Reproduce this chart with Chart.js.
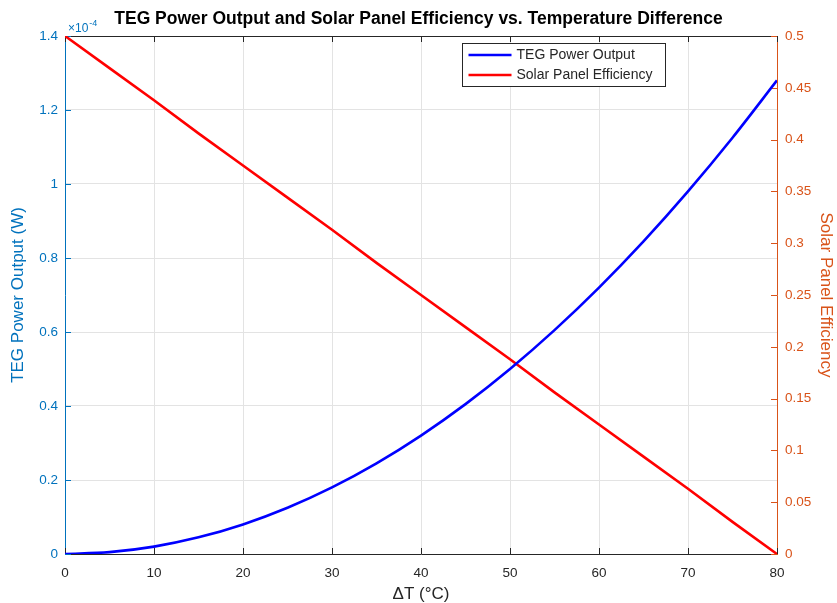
<!DOCTYPE html>
<html>
<head>
<meta charset="utf-8">
<script src="https://cdn.jsdelivr.net/npm/chart.js@4/dist/chart.umd.min.js"></script>
<style>
  html, body { margin: 0; padding: 0; background: #fff; }
  #wrap { width: 837px; height: 603px; }
</style>
</head>
<body>
<div id="wrap"><canvas id="c" width="837" height="603"></canvas></div>
<script>
// Temperature difference (°C)
const deltaT = [0, 5, 10, 15, 20, 25, 30, 35, 40, 45, 50, 55, 60, 65, 70, 75, 80];
// TEG power output (W)
const tegPowerW = [0, 5.0e-7, 2.0e-6, 4.5e-6, 8.0e-6, 1.25e-5, 1.8e-5, 2.45e-5, 3.2e-5,
                   4.05e-5, 5.0e-5, 6.05e-5, 7.2e-5, 8.45e-5, 9.8e-5, 1.125e-4, 1.28e-4];
// Solar panel efficiency (fraction)
const solarEfficiency = [0.5, 0.469, 0.438, 0.406, 0.375, 0.344, 0.313, 0.281, 0.25,
                         0.219, 0.188, 0.156, 0.125, 0.094, 0.063, 0.031, 0];

// Tick labels
const xTickValues = [0, 10, 20, 30, 40, 50, 60, 70, 80];
const tegTickLabels = [0, 0.2, 0.4, 0.6, 0.8, 1, 1.2, 1.4];   // ×10^-4 W
const tegExponent = -4;
const effTickLabels = [0, 0.05, 0.1, 0.15, 0.2, 0.25, 0.3, 0.35, 0.4, 0.45, 0.5];

const BLUE_AXIS = '#0072BD';
const ORANGE_AXIS = '#D95319';
const DARK = '#262626';
const GRID = '#e3e3e3';
const FONT = '"Liberation Sans", Arial, Helvetica, sans-serif';
const TICK_SIZE = 13.5;
const LABEL_SIZE = 17;

const tegScale = Math.pow(10, tegExponent);

// Inward tick marks and the top edge of the axes box
const frameAndTicks = {
  id: 'frameAndTicks',
  beforeDatasetsDraw(chart) {
    const { ctx, chartArea: a, scales } = chart;
    const L = 6;
    ctx.save();
    ctx.lineWidth = 1;
    ctx.strokeStyle = DARK;
    ctx.beginPath();
    ctx.moveTo(a.left, a.top + 0.5);
    ctx.lineTo(a.right, a.top + 0.5);
    ctx.stroke();
    ctx.beginPath();
    scales.x.ticks.forEach(t => {
      const px = Math.round(scales.x.getPixelForValue(t.value)) + 0.5;
      ctx.moveTo(px, a.bottom); ctx.lineTo(px, a.bottom - L);
      ctx.moveTo(px, a.top); ctx.lineTo(px, a.top + L);
    });
    ctx.stroke();
    ctx.strokeStyle = BLUE_AXIS;
    ctx.beginPath();
    scales.y.ticks.forEach(t => {
      const py = Math.round(scales.y.getPixelForValue(t.value)) + 0.5;
      ctx.moveTo(a.left, py); ctx.lineTo(a.left + L, py);
    });
    ctx.stroke();
    ctx.strokeStyle = ORANGE_AXIS;
    ctx.beginPath();
    scales.y1.ticks.forEach(t => {
      const py = Math.round(scales.y1.getPixelForValue(t.value)) + 0.5;
      ctx.moveTo(a.right, py); ctx.lineTo(a.right - L, py);
    });
    ctx.stroke();
    ctx.restore();
  }
};

// Boxed legend inside the upper part of the plot
const boxLegend = {
  id: 'boxLegend',
  afterDatasetsDraw(chart) {
    const { ctx } = chart;
    const x = 462.5, y = 43.5, w = 203, h = 43;
    ctx.save();
    ctx.fillStyle = '#fff';
    ctx.fillRect(x, y, w, h);
    ctx.strokeStyle = DARK;
    ctx.lineWidth = 1;
    ctx.strokeRect(x, y, w, h);
    ctx.font = '14px ' + FONT;
    ctx.textBaseline = 'middle';
    ctx.textAlign = 'left';
    chart.data.datasets.forEach((ds, i) => {
      const ry = y + 11.5 + i * 20;
      ctx.strokeStyle = ds.borderColor;
      ctx.lineWidth = 2.5;
      ctx.beginPath();
      ctx.moveTo(x + 6, ry);
      ctx.lineTo(x + 49, ry);
      ctx.stroke();
      ctx.fillStyle = DARK;
      ctx.fillText(ds.label, x + 54, ry + 0.5);
    });
    ctx.restore();
  }
};

// Exponent marker above the left axis
const exponentLabel = {
  id: 'exponentLabel',
  afterDraw(chart) {
    const { ctx, chartArea: a } = chart;
    ctx.save();
    ctx.fillStyle = BLUE_AXIS;
    ctx.textBaseline = 'alphabetic';
    ctx.textAlign = 'left';
    ctx.font = '12px ' + FONT;
    const base = '\u00d710';
    ctx.fillText(base, a.left + 3, a.top - 4);
    const bw = ctx.measureText(base).width;
    ctx.font = '9px ' + FONT;
    ctx.fillText('-' + Math.abs(tegExponent), a.left + 3 + bw + 1, a.top - 10);
    ctx.restore();
  }
};

const fmt = v => String(+v.toFixed(4));

new Chart(document.getElementById('c'), {
  type: 'line',
  data: {
    datasets: [
      {
        label: 'TEG Power Output',
        data: deltaT.map((t, i) => ({ x: t, y: tegPowerW[i] })),
        borderColor: '#0000ff',
        borderWidth: 2.6,
        pointRadius: 0,
        cubicInterpolationMode: 'monotone',
        yAxisID: 'y'
      },
      {
        label: 'Solar Panel Efficiency',
        data: deltaT.map((t, i) => ({ x: t, y: solarEfficiency[i] })),
        borderColor: '#ff0000',
        borderWidth: 2.6,
        pointRadius: 0,
        tension: 0,
        yAxisID: 'y1'
      }
    ]
  },
  options: {
    responsive: false,
    animation: false,
    layout: { padding: 0 },
    plugins: {
      legend: { display: false },
      tooltip: { enabled: false },
      title: {
        display: true,
        text: 'TEG Power Output and Solar Panel Efficiency vs. Temperature Difference',
        color: '#000',
        font: { family: FONT, size: 17.5, weight: 'bold', lineHeight: 1.2 },
        padding: { top: 9, bottom: 6 }
      }
    },
    scales: {
      x: {
        type: 'linear',
        min: 0, max: 80,
        afterBuildTicks: s => { s.ticks = xTickValues.map(v => ({ value: v })); },
        afterFit: s => { s.height = 49; },
        grid: { color: GRID, drawTicks: false },
        border: { color: DARK, width: 1 },
        ticks: { color: DARK, font: { family: FONT, size: TICK_SIZE }, padding: 11, maxRotation: 0, callback: v => fmt(v) },
        title: { display: true, text: '\u0394T (\u00b0C)', color: DARK, font: { family: FONT, size: LABEL_SIZE, lineHeight: 1 }, padding: { top: 0, bottom: 0 } }
      },
      y: {
        type: 'linear',
        position: 'left',
        min: 0, max: 1.4e-4,
        afterBuildTicks: s => { s.ticks = tegTickLabels.map(v => ({ value: v * tegScale })); },
        afterFit: s => { s.width = 65; },
        grid: { color: GRID, drawTicks: false },
        border: { color: BLUE_AXIS, width: 1 },
        ticks: { color: BLUE_AXIS, font: { family: FONT, size: TICK_SIZE }, padding: 7, callback: v => fmt(v / tegScale) },
        title: { display: true, text: 'TEG Power Output (W)', color: BLUE_AXIS, font: { family: FONT, size: LABEL_SIZE, lineHeight: 1.2 }, padding: { top: 8, bottom: 0 } }
      },
      y1: {
        type: 'linear',
        position: 'right',
        min: 0, max: 0.5,
        afterBuildTicks: s => { s.ticks = effTickLabels.map(v => ({ value: v })); },
        afterFit: s => { s.width = 60; },
        grid: { display: false, drawTicks: false },
        border: { color: ORANGE_AXIS, width: 1 },
        ticks: { color: ORANGE_AXIS, font: { family: FONT, size: TICK_SIZE }, padding: 8, callback: v => fmt(v) },
        title: { display: true, text: 'Solar Panel Efficiency', color: ORANGE_AXIS, font: { family: FONT, size: LABEL_SIZE, lineHeight: 1.2 }, padding: { top: 1, bottom: 0 } }
      }
    }
  },
  plugins: [frameAndTicks, boxLegend, exponentLabel]
});
</script>
</body>
</html>
